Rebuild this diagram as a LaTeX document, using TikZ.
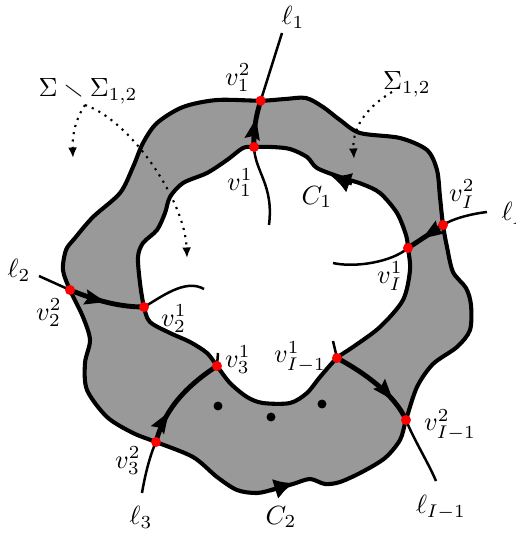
\documentclass[tikz,border=0pt]{standalone}
\usepackage{amssymb}
\usetikzlibrary{arrows.meta,decorations.markings}
\begin{document}
\begin{tikzpicture}[x=0.38pt,y=-0.38pt,
  bnd/.style={line width=1.55pt, line join=round},
  thinl/.style={line width=0.95pt},
  thickl/.style={line width=1.85pt},
  midarrow/.style={decoration={markings, mark=at position #1 with {\arrow{Stealth[length=8pt,width=5.5pt,inset=1pt]}}}, postaction={decorate}},
  tipl/.style={line width=1.55pt, -{Latex[length=7.5pt,width=8pt]}},
  rdot/.style={circle, fill=red, inner sep=0pt, minimum size=3.8pt},
  bdot/.style={circle, fill=black, inner sep=0pt, minimum size=3.4pt},
  dotarr/.style={dotted, line width=0.8pt, -{Latex[length=4pt,width=3.4pt]}},
  lbl/.style={inner sep=0pt}]
\useasboundingbox (0,0) rectangle (516,533);
% region
\draw[bnd, fill=black!40, even odd rule]
 plot[smooth cycle] coordinates {(260.7,100.7) (285,99) (306,98) (323,107) (340,120) (360,133) (400,138) (427,150) (437,170) (440,197) (443,225) (447,247) (453,272) (466,288) (471,305) (470,330) (457,347) (433,364) (417,387) (406,420) (400,440) (385,458) (362,472) (340,482) (325,484) (310,479) (293,484) (275,489) (257,493) (237,490) (217,477) (193,457) (156,442) (133,433) (107,417) (87,390) (85,363) (90,340) (83,317) (70,290) (63,270) (66,250) (75,238) (93,217) (120,193) (133,167) (143,143) (157,123) (183,107) (217,100)}
 plot[smooth cycle] coordinates {(254,147) (272,147) (290,149) (307,157) (317,168) (340,177) (362,184) (380,193) (397,213) (406,235) (408,248) (410,270) (403,300) (380,327) (353,347) (337,358) (320,377) (307,393) (290,403) (263,403) (247,397) (230,383) (217,366) (207,353) (190,342) (170,333) (150,322) (144,307) (140,283) (138,257) (143,243) (157,230) (165,213) (170,197) (183,183) (207,173) (227,160) (243,148)};
% orientation tips
\coordinate (c1a) at (352,183.5);
\coordinate (c1b) at (331,176);
\coordinate (c2a) at (270,490.5);
\coordinate (c2b) at (294,483);
\draw[tipl] (c1a) -- (c1b);
\draw[tipl] (c2a) -- (c2b);
% vertices
\coordinate (v12) at (260.7,100.7);
\coordinate (v11) at (254,147);
\coordinate (vI2) at (443,225);
\coordinate (vI1) at (408,248);
\coordinate (v22) at (70,290);
\coordinate (v21) at (144,307);
\coordinate (v31) at (217,366);
\coordinate (v32) at (156,442);
\coordinate (vJ1) at (337,358);
\coordinate (vJ2) at (406,420);
% free ends
\coordinate (l1s) at (282,33);
\coordinate (l1e) at (269,225);
\coordinate (lIs) at (487,212);
\coordinate (lIe) at (333,263);
\coordinate (l2s) at (39,276);
\coordinate (l2e) at (204,289);
\coordinate (l3s) at (142,493);
\coordinate (l3e) at (218,353);
\coordinate (lJs) at (333,341);
\coordinate (lJe) at (436,481);
% lines l1
\draw[thinl] (l1s) -- (v12);
\draw[thickl, midarrow=0.62] (v11) .. controls (253,130) and (257,112) .. (v12);
\draw[thinl] (v11) .. controls (255,172) and (274,185) .. (l1e);
% l_I
\draw[thinl] (lIs) .. controls (470,214) and (452,219) .. (vI2);
\draw[thickl, midarrow=0.6] (vI2) -- (vI1);
\draw[thinl] (vI1) .. controls (392,262) and (355,268) .. (lIe);
% l2
\draw[thinl] (l2s) -- (v22);
\draw[thickl, midarrow=0.5] (v22) .. controls (90,298) and (115,307) .. (v21);
\draw[thinl] (v21) .. controls (160,298) and (185,278) .. (l2e);
% l3
\draw[thinl] (l3s) .. controls (145,475) and (150,455) .. (v32);
\draw[thickl, midarrow=0.33] (v32) .. controls (163,415) and (180,390) .. (v31);
\draw[thinl] (v31) -- (l3e);
% l_{I-1}
\draw[thinl] (lJs) -- (vJ1);
\draw[thickl, midarrow=0.75] (vJ1) .. controls (365,373) and (395,395) .. (vJ2);
\draw[thinl] (vJ2) .. controls (414,440) and (428,462) .. (lJe);
% dots
\node[bdot] (d1) at (218,406) {};
\node[bdot] (d2) at (271,417) {};
\node[bdot] (d3) at (322,404) {};
% red vertices
\foreach \p in {v12,v11,vI2,vI1,v22,v21,v31,v32,vJ1,vJ2}
  \node[rdot] at (\p) {};
% labels
\node[lbl] (tl1) at (293,17) {$\ell_1$};
\node[lbl] (tv12) at (238,78) {$v_1^2$};
\node[lbl] (tv11) at (240,183) {$v_1^1$};
\node[lbl] (tsig) at (88,91) {$\Sigma\smallsetminus\Sigma_{1,2}$};
\node[lbl] (tsig12) at (407,84) {$\Sigma_{1,2}$};
\node[lbl] (tc1) at (317,197) {$C_1$};
\node[lbl] (tvI2) at (462,194) {$v_I^2$};
\node[lbl,anchor=west] (tlI) at (501,213) {$\ell_I$};
\node[lbl] (tvI1) at (390,276) {$v_I^1$};
\node[lbl] (tl2) at (19,270) {$\ell_2$};
\node[lbl] (tv22) at (49,313) {$v_2^2$};
\node[lbl] (tv21) at (174,319) {$v_2^1$};
\node[lbl] (tv31) at (238,360) {$v_3^1$};
\node[lbl] (tvJ1) at (300,357) {$v_{I-1}^1$};
\node[lbl] (tvJ2) at (450,425) {$v_{I-1}^2$};
\node[lbl] (tv32) at (128,461) {$v_3^2$};
\node[lbl] (tl3) at (141,517) {$\ell_3$};
\node[lbl] (tc2) at (281,517) {$C_2$};
\node[lbl] (tlJ) at (441,507) {$\ell_{I-1}$};
% dotted pointers
\coordinate (s0) at (85,105);
\coordinate (s1) at (73,158);
\coordinate (s2) at (187,258);
\coordinate (t0) at (392,92);
\coordinate (t1) at (354,159);
\draw[dotarr] (s0) .. controls (76,118) and (72,135) .. (s1);
\draw[dotarr] (s0) .. controls (130,120) and (185,200) .. (s2);
\draw[dotarr] (t0) .. controls (370,105) and (352,125) .. (t1);
\end{tikzpicture}
\end{document}
